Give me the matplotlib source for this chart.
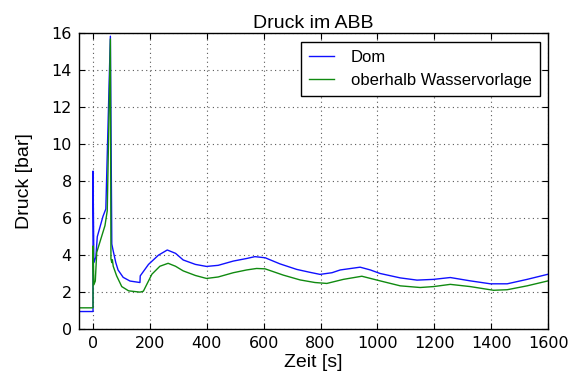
import matplotlib
matplotlib.use('Agg')
import matplotlib.pyplot as plt

plt.rcParams['font.family'] = ['Liberation Sans', 'DejaVu Sans']

# Dom
t_dom = [-50, 0, 0, 3, 10, 15, 35, 45, 61, 66, 70, 80, 88, 106, 130, 165, 166,
         195, 230, 261, 290, 317, 360, 399, 440, 493, 540, 569, 605, 657, 716,
         760, 798, 840, 869, 939, 975, 1009, 1080, 1139, 1197, 1256, 1326, 1397,
         1456, 1526, 1600]
p_dom = [0.95, 0.95, 8.55, 3.6, 3.9, 5.0, 6.1, 6.5, 15.85, 4.6, 4.3, 3.6, 3.2,
         2.8, 2.6, 2.52, 2.88, 3.5, 4.0, 4.28, 4.1, 3.74, 3.5, 3.39, 3.45, 3.68,
         3.82, 3.92, 3.86, 3.53, 3.23, 3.08, 2.96, 3.05, 3.2, 3.35, 3.2, 3.01,
         2.77, 2.65, 2.69, 2.79, 2.61, 2.45, 2.45, 2.69, 2.97]

# oberhalb Wasservorlage
t_wv = [-50, 0, 0, 3, 8, 13, 42, 50, 61, 63, 66, 68, 71, 83, 101, 125, 165,
        177, 207, 235, 264, 290, 317, 360, 399, 440, 493, 540, 575, 605, 669,
        728, 780, 822, 880, 945, 1009, 1080, 1150, 1197, 1256, 1326, 1408, 1456,
        1526, 1600]
p_wv = [1.15, 1.15, 4.5, 2.4, 2.6, 4.15, 5.6, 6.4, 15.7, 3.8, 3.6, 3.75, 3.4,
        2.88, 2.3, 2.07, 2.0, 2.05, 2.97, 3.4, 3.56, 3.4, 3.15, 2.9, 2.74, 2.82,
        3.05, 3.2, 3.28, 3.26, 2.92, 2.66, 2.52, 2.47, 2.69, 2.86, 2.61, 2.34,
        2.25, 2.3, 2.42, 2.3, 2.1, 2.13, 2.34, 2.61]

xticks = list(range(0, 1601, 200))
yticks = list(range(0, 17, 2))

fig = plt.figure(figsize=(5.71, 3.8), dpi=100)
ax = fig.add_axes([0.138, 0.134, 0.822, 0.778])

ax.plot(t_dom, p_dom, color='#1010ff', lw=1.0, label='Dom')
ax.plot(t_wv, p_wv, color='#108a10', lw=1.0, label='oberhalb Wasservorlage')

ax.set_xlim(-50, 1600)
ax.set_ylim(0, 16)
ax.set_xticks(xticks)
ax.set_yticks(yticks)
ax.tick_params(direction='in', top=True, right=True, length=4, pad=5)
for lab in ax.get_xticklabels() + ax.get_yticklabels():
    lab.set_fontfamily('DejaVu Sans')
    lab.set_fontsize(11.5)
ax.grid(True, color='0.35', linestyle=(0, (1, 3)), linewidth=0.8)
for s in ax.spines.values():
    s.set_linewidth(1.0)

ax.set_title('Druck im ABB', fontsize=14, pad=4)
ax.set_xlabel('Zeit [s]', fontsize=14, labelpad=2)
ax.set_ylabel('Druck [bar]', fontsize=14, labelpad=13)

leg = ax.legend(loc='upper right', fontsize=12, fancybox=False, framealpha=1,
                edgecolor='k', borderpad=0.5, handlelength=1.5,
                handletextpad=1.0, labelspacing=0.45, borderaxespad=0.5)
leg.get_frame().set_linewidth(1.0)

fig.savefig('out.png', dpi=100, facecolor='white')
